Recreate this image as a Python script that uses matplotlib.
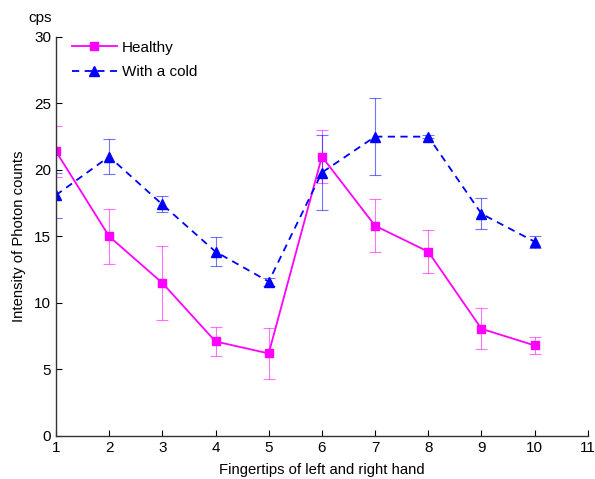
import matplotlib
matplotlib.use("Agg")
import matplotlib.pyplot as plt

plt.rcParams['font.family'] = ['Liberation Sans', 'DejaVu Sans']

fingers = [1, 2, 3, 4, 5, 6, 7, 8, 9, 10]
healthy = [21.4, 15.0, 11.5, 7.1, 6.2, 21.0, 15.8, 13.85, 8.05, 6.8]
healthy_err = [1.9, 2.05, 2.8, 1.1, 1.9, 2.0, 2.0, 1.6, 1.55, 0.65]
cold = [18.1, 21.0, 17.4, 13.85, 11.6, 19.8, 22.5, 22.5, 16.7, 14.6]
cold_err = [1.7, 1.3, 0.6, 1.1, 0.3, 2.8, 2.9, 0.1, 1.15, 0.45]

fig = plt.figure(figsize=(5.95, 4.79), dpi=100)
ax = fig.add_axes([0.094, 0.09, 0.894, 0.833])

# error bars drawn faint, lines on top
ax.errorbar(fingers, healthy, yerr=healthy_err, fmt='none', ecolor='#ff00ff',
            elinewidth=0.8, capsize=4, capthick=0.8, alpha=0.55)
ax.errorbar(fingers, cold, yerr=cold_err, fmt='none', ecolor='#0000ff',
            elinewidth=0.8, capsize=4, capthick=0.8, alpha=0.55)
ax.plot(fingers, healthy, color='#ff00ff', linestyle='-', linewidth=1.3,
        marker='s', markersize=6, label='Healthy')
ax.plot(fingers, cold, color='#0000ff', linestyle=(0, (4, 3)), linewidth=1.3,
        marker='^', markersize=7, label='With a cold')

ax.set_xlim(1, 11)
ax.set_ylim(0, 30)
ax.set_xticks(range(1, 12))
ax.set_yticks(range(0, 31, 5))
ax.tick_params(direction='in', labelsize=11, length=4, width=0.8)
for side in ['top', 'right']:
    ax.spines[side].set_visible(False)
for side in ['left', 'bottom']:
    ax.spines[side].set_linewidth(1.0)
    ax.spines[side].set_color('#333333')

ax.set_xlabel('Fingertips of left and right hand', fontsize=10.7, labelpad=6)
ax.set_ylabel('Intensity of Photon counts', fontsize=10.7, labelpad=6)
fig.text(0.067, 0.962, 'cps', fontsize=11, ha='center', va='center')

ax.legend(loc='upper left', frameon=False, fontsize=11, handlelength=3.0,
          handletextpad=0.3, borderaxespad=0.1, bbox_to_anchor=(0.015, 1.01),
          labelspacing=0.7)

fig.savefig('out.png', dpi=100)
